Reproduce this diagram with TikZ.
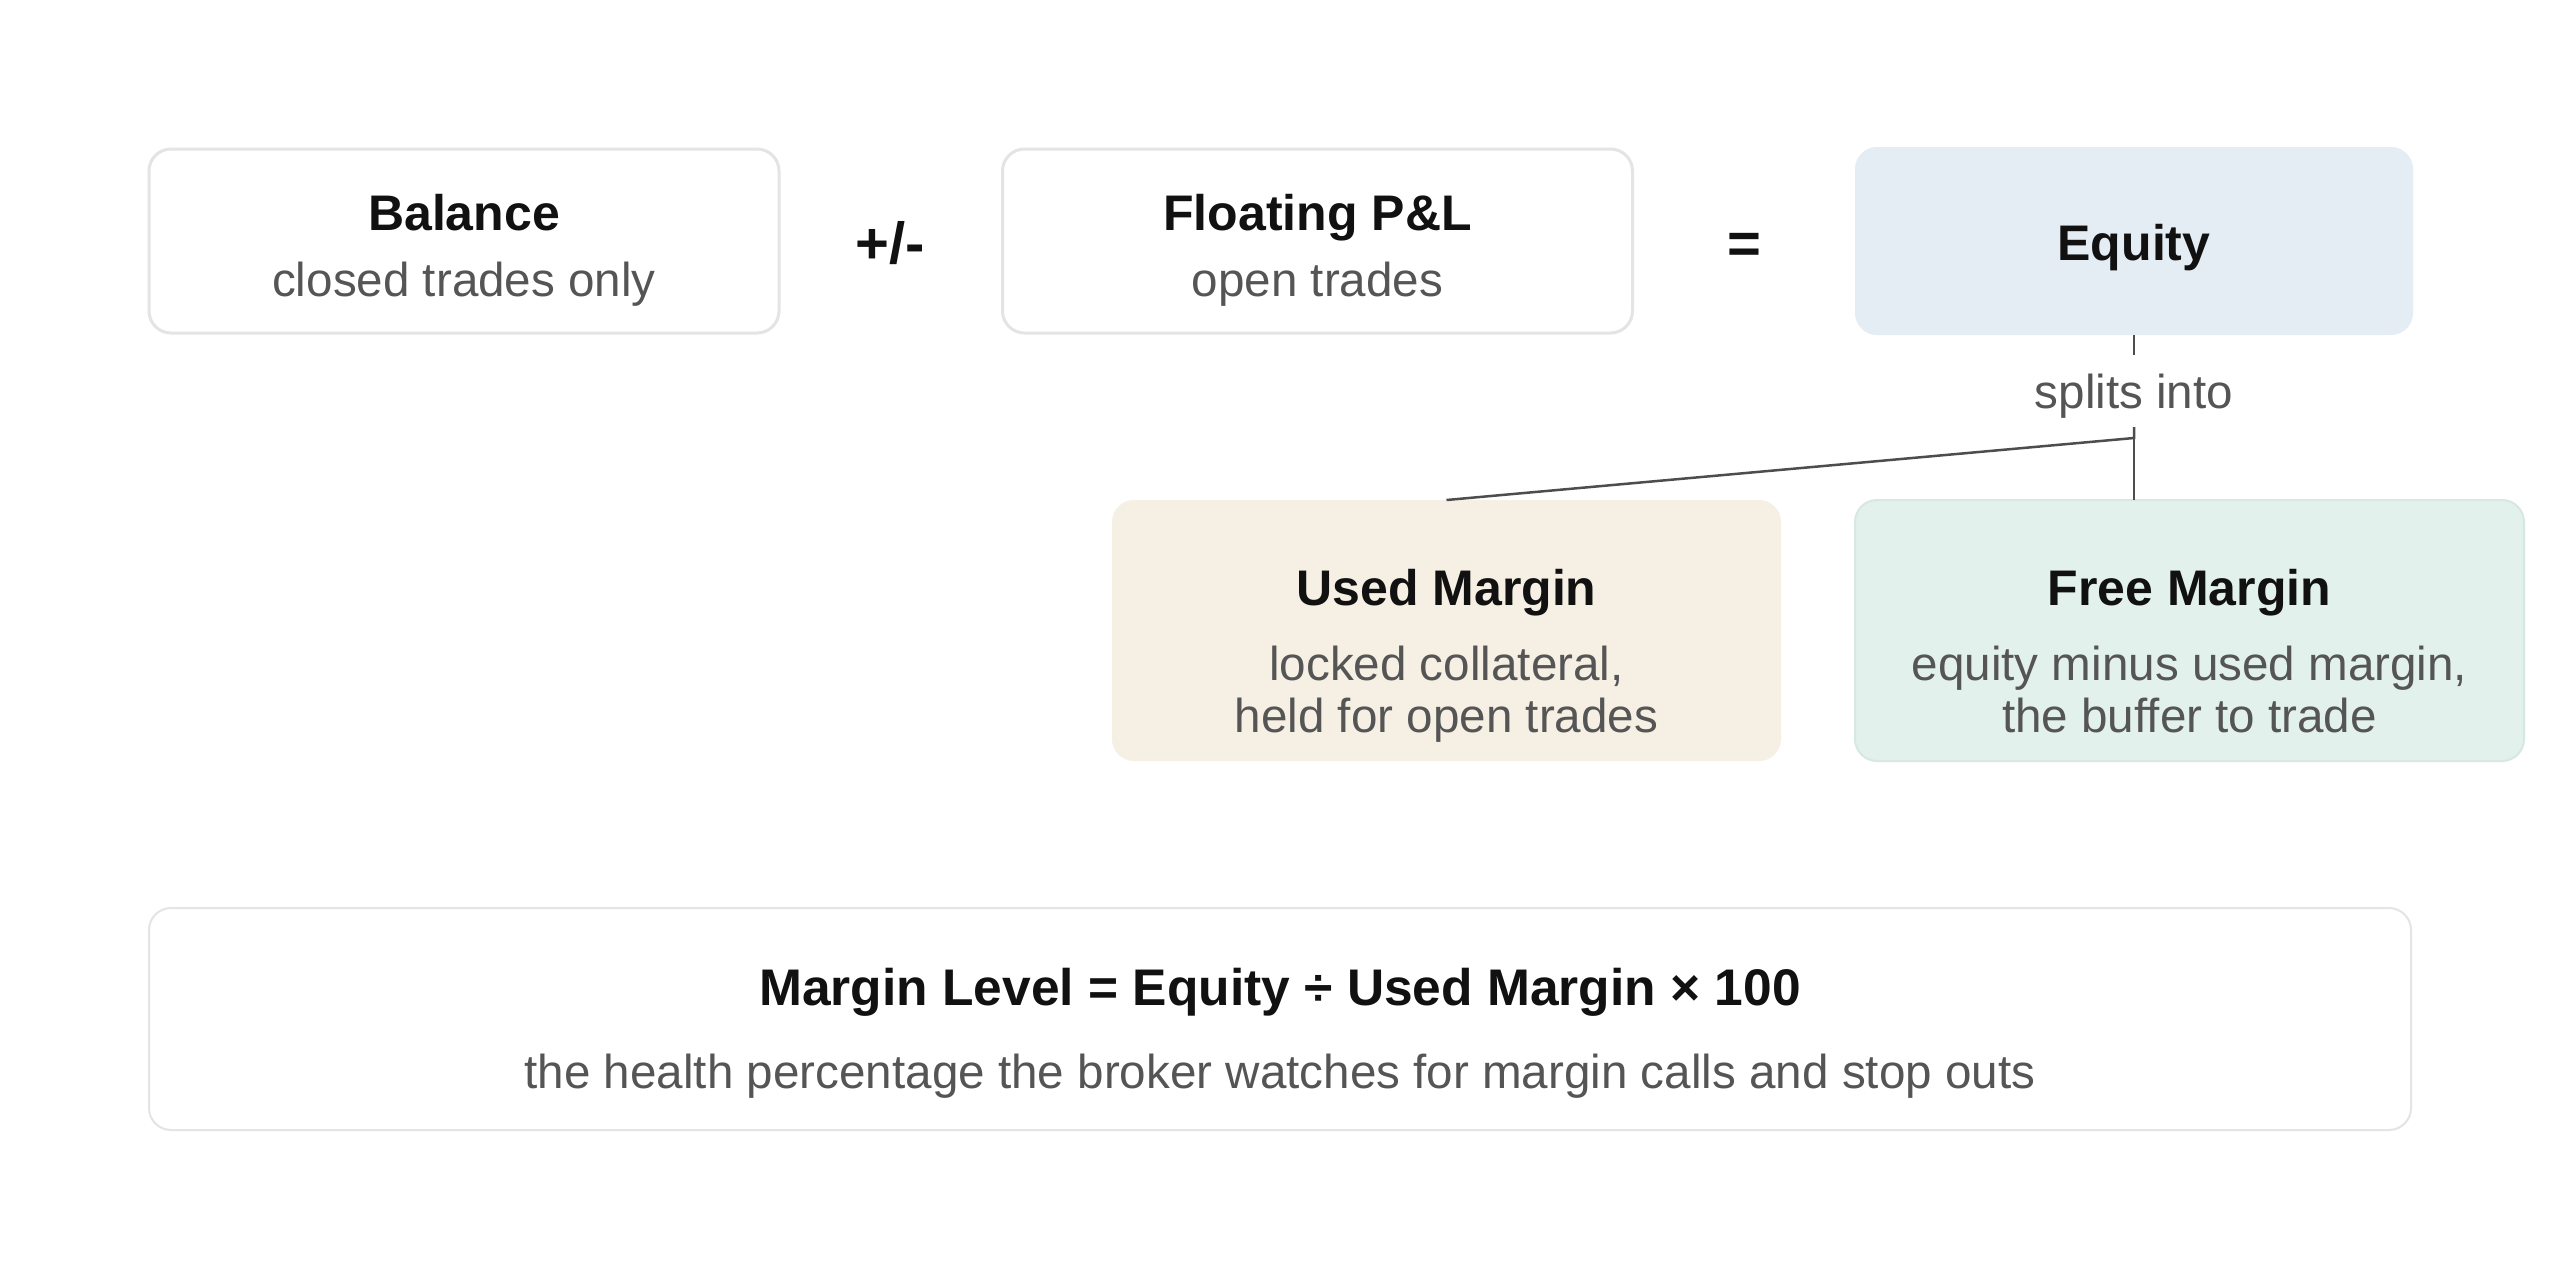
\documentclass[tikz,border=0pt]{standalone}
\usepackage{fontspec}
\setmainfont{Liberation Sans}
\usepackage{xcolor}
\usepackage{tikz}
\usetikzlibrary{calc}

\definecolor{cardline}{RGB}{228,228,228}
\definecolor{equityfill}{RGB}{228,236,244}
\definecolor{usedfill}{RGB}{245,239,228}
\definecolor{freefill}{RGB}{227,241,237}
\definecolor{freeline}{RGB}{214,232,225}
\definecolor{inkdark}{RGB}{17,17,17}
\definecolor{inkgray}{RGB}{85,85,85}
\definecolor{linegray}{RGB}{77,77,77}

\begin{document}
\begin{tikzpicture}[x=1pt,y=-1pt,
        card/.style 2 args={rectangle,rounded corners=22pt,minimum width=#1,minimum height=#2,inner sep=0pt,outer sep=0pt},
        headtext/.style={font=\fontsize{50}{60}\selectfont\bfseries,text=inkdark,anchor=base,inner sep=0pt},
        subtext/.style={font=\fontsize{47.6}{52}\selectfont,text=inkgray,anchor=base,inner sep=0pt},
        optext/.style={font=\fontsize{58}{64}\selectfont\bfseries,text=inkdark,anchor=base,inner sep=0pt},
        wire/.style={draw=linegray,line width=2.5pt}]
        \useasboundingbox[fill=white] (0,0) rectangle (2560,1261);
        \node[card={630pt}{184pt},draw=cardline,line width=3pt,fill=white] (bal) at (464,241) {};
        \node[card={630pt}{184pt},draw=cardline,line width=3pt,fill=white] (flo) at (1317.5,241) {};
        \node[card={558pt}{188pt},fill=equityfill] (eq) at (2134,241) {};
        \node[card={669pt}{261pt},fill=usedfill] (used) at (1446.5,630.5) {};
        \node[card={669pt}{261pt},draw=freeline,line width=2pt,fill=freefill] (free) at (2189.5,630.5) {};
        \node[card={2262pt}{222pt},draw=cardline,line width=2pt,fill=white] (lvl) at (1280,1019) {};
        \node[headtext] (baltitle) at (464,230) {Balance};
        \node[subtext] (balsub) at (464,296) {closed trades only};
        \node[optext] (plusminus) at (890,263) {+/-};
        \node[headtext] (flotitle) at (1317.5,230) {Floating P\&L};
        \node[subtext] (flosub) at (1317.5,296) {open trades};
        \node[optext] (equals) at (1744,263) {=};
        \node[headtext] (eqtitle) at (2134,260) {Equity};
        \node[subtext] (splits) at (2134,408) {splits into};
        \node[headtext] (usedtitle) at (1446.5,605) {Used Margin};
        \node[subtext] (usedsuba) at (1446.5,680) {locked collateral,};
        \node[subtext] (usedsubb) at (1446.5,732) {held for open trades};
        \node[headtext] (freetitle) at (2189.5,605) {Free Margin};
        \node[subtext] (freesuba) at (2189.5,680) {equity minus used margin,};
        \node[subtext] (freesubb) at (2189.5,732) {the buffer to trade};
        \node[headtext,font=\fontsize{51.5}{60}\selectfont\bfseries] (lvltitle) at (1280,1005) {Margin Level = Equity ÷ Used Margin × 100};
        \node[subtext] (lvlsub) at (1280,1088) {the health percentage the broker watches for margin calls and stop outs};
        \coordinate (tick) at (2134,355);
        \coordinate (forktop) at (2134,427);
        \coordinate (fork) at (2134,438);
        \draw[wire] (eq.south) -- (tick);
        \draw[wire] (forktop) -- (fork) -- (used.north);
        \draw[wire] (fork) -- (eq.south |- free.north);
\end{tikzpicture}
\end{document}
